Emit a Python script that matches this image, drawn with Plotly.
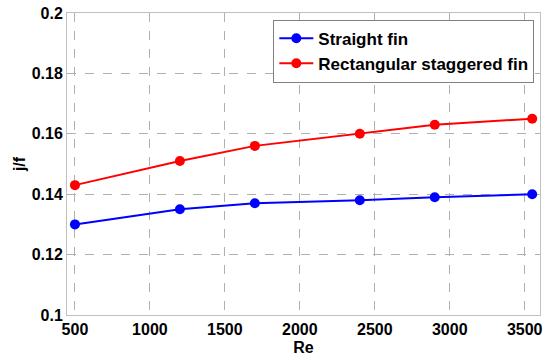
import plotly.graph_objects as go

re_vals = [500, 1200, 1700, 2400, 2900, 3550]
straight_fin = [0.130, 0.135, 0.137, 0.138, 0.139, 0.140]
rect_staggered_fin = [0.143, 0.151, 0.156, 0.160, 0.163, 0.165]

fig = go.Figure()
fig.add_trace(go.Scatter(x=re_vals, y=straight_fin, mode="lines+markers", name="Straight fin",
                         line=dict(color="#0000ff", width=2), marker=dict(size=10, color="#0000ff")))
fig.add_trace(go.Scatter(x=re_vals, y=rect_staggered_fin, mode="lines+markers", name="Rectangular staggered fin",
                         line=dict(color="#ff0000", width=2), marker=dict(size=10, color="#ff0000")))

font_fam = "Liberation Sans, Arial, sans-serif"
axis_common = dict(showgrid=True, gridcolor="#b0b0b0", griddash="dash", gridwidth=1,
                   showline=True, linecolor="#c0c0c0", linewidth=1, mirror=True,
                   ticks="", zeroline=False, automargin=False,
                   tickfont=dict(family=font_fam, size=16, color="black", weight="bold"))
fig.update_layout(
    width=550, height=360,
    margin=dict(l=67, r=10, t=13, b=45),
    paper_bgcolor="white", plot_bgcolor="white",
    xaxis=dict(range=[447, 3602], tickvals=[500, 1000, 1500, 2000, 2500, 3000, 3500],
               title=dict(text="Re", font=dict(family=font_fam, size=16, color="black", weight="bold"), standoff=4),
               **axis_common),
    yaxis=dict(range=[0.1, 0.2], tickvals=[0.1, 0.12, 0.14, 0.16, 0.18, 0.2],
               ticktext=["0.1", "0.12", "0.14", "0.16", "0.18", "0.2"],
               title=dict(text="j/f", font=dict(family=font_fam, size=16, color="black", weight="bold"), standoff=2),
               **axis_common),
    legend=dict(x=0.988, y=0.978, xanchor="right", yanchor="top",
                bgcolor="white", bordercolor="#808080", borderwidth=1,
                font=dict(family=font_fam, size=17, color="black", weight="bold"),
                tracegroupgap=0, itemwidth=34),
    showlegend=True,
)
fig.write_html("out.html", config={"displayModeBar": False},
               post_script="document.body.style.margin='0';document.body.style.overflow='hidden';")
